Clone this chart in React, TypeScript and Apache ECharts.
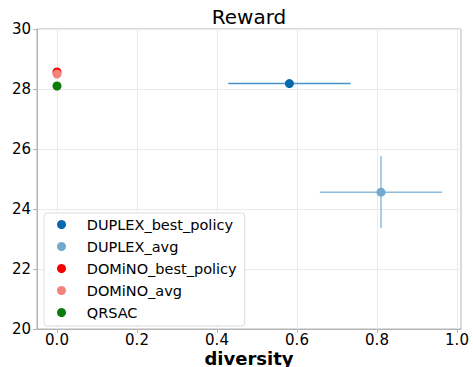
import React, { useEffect, useRef } from "react";
import * as echarts from "echarts";

const seriesNames = ["DUPLEX_best_policy", "DUPLEX_avg", "DOMiNO_best_policy", "DOMiNO_avg", "QRSAC"];
const diversity = [0.581, 0.81, 0.0, 0.0, 0.0];
const diversityErr = [0.153, 0.153, 0.0, 0.0, 0.0];
const reward = [28.18, 24.56, 28.57, 28.5, 28.1];
const rewardErr = [0.0, 1.2, 0.03, 0.05, 0.08];
const xTicks = [0, 0.2, 0.4, 0.6, 0.8, 1.0];

const markerColors = ["#0868ac", "#74a9cf", "#f50000", "#f4837d", "#0a7d0a"];
const barColors = ["#4a93c8", "#8fbcdc", "#f06060", "#f4a09c", "#3c9a3c"];

const FONT = "DejaVu Sans";

export default function App() {
  const ref = useRef<HTMLDivElement>(null);
  useEffect(() => {
    if (!ref.current) return;
    const chart = echarts.init(ref.current, null, { renderer: "svg" });
    const errData = diversity.map((d, i) => [d, reward[i], diversityErr[i], rewardErr[i]]);
    const option: any = {
      animation: false,
      backgroundColor: "#ffffff",
      textStyle: { fontFamily: FONT },
      title: {
        text: "Reward",
        left: 249,
        textAlign: "center",
        top: 7,
        padding: 0,
        textStyle: { fontFamily: FONT, fontSize: 20, fontWeight: "normal", color: "#000" },
      },
      grid: {
        left: 37,
        right: 12,
        top: 29,
        bottom: 38,
        show: true,
        borderColor: "#b5b5b5",
        borderWidth: 1,
        containLabel: false,
        outerBoundsMode: "none",
      },
      legend: {
        data: seriesNames,
        orient: "vertical",
        left: 44,
        top: 213,
        padding: [4, 8, 6, 13],
        icon: "circle",
        itemWidth: 22,
        itemHeight: 9,
        itemGap: 7,
        formatter: (n: string) => "\u00a0\u00a0" + n,
        backgroundColor: "#ffffff",
        borderColor: "#dddddd",
        borderWidth: 1,
        borderRadius: 3,
        textStyle: { fontFamily: FONT, fontSize: 14.5, color: "#000", lineHeight: 14 },
      },
      xAxis: {
        type: "value",
        min: -0.05,
        max: 1.01,
        name: "diversity",
        nameLocation: "middle",
        nameGap: 20,
        nameMoveOverlap: false,
        nameTextStyle: { fontFamily: FONT, fontSize: 18, fontWeight: "bold", color: "#000" },
        axisLine: { show: true, onZero: false, lineStyle: { color: "#b5b5b5", width: 1 } },
        axisTick: { show: true, length: 4, customValues: xTicks, lineStyle: { color: "#b5b5b5" } },
        axisLabel: {
          customValues: xTicks,
          margin: 4,
          lineHeight: 13,
          fontFamily: FONT,
          fontSize: 15,
          color: "#000",
          formatter: (v: number) => v.toFixed(1),
        },
        splitLine: { show: true, customValues: xTicks, lineStyle: { color: "#ebebeb", width: 1 } },
      },
      yAxis: {
        type: "value",
        min: 20,
        max: 30,
        interval: 2,
        axisLine: { show: true, onZero: false, lineStyle: { color: "#b5b5b5", width: 1 } },
        axisTick: { show: true, length: 4, lineStyle: { color: "#b5b5b5" } },
        axisLabel: { margin: 6, fontFamily: FONT, fontSize: 15, color: "#000" },
        splitLine: { show: true, lineStyle: { color: "#ebebeb", width: 1 } },
      },
      series: [
        {
          type: "custom",
          name: "errorbars",
          z: 1,
          silent: true,
          encode: { x: 0, y: 1 },
          data: errData,
          renderItem: (params: any, api: any) => {
            const x = api.value(0);
            const y = api.value(1);
            const ex = api.value(2);
            const ey = api.value(3);
            const color = barColors[params.dataIndex];
            const children: any[] = [];
            if (ex > 0) {
              const a = api.coord([x - ex, y]);
              const b = api.coord([x + ex, y]);
              children.push({
                type: "line",
                shape: { x1: a[0], y1: a[1], x2: b[0], y2: b[1] },
                style: { stroke: color, lineWidth: 1.5 },
              });
            }
            if (ey > 0) {
              const a = api.coord([x, y - ey]);
              const b = api.coord([x, y + ey]);
              children.push({
                type: "line",
                shape: { x1: a[0], y1: a[1], x2: b[0], y2: b[1] },
                style: { stroke: color, lineWidth: 1.5 },
              });
            }
            return { type: "group", children };
          },
        },
        ...seriesNames.map((name, i) => ({
          type: "scatter",
          name,
          z: 3,
          symbol: "circle",
          symbolSize: 9,
          itemStyle: { color: markerColors[i], opacity: 1 },
          data: [[diversity[i], reward[i]]],
        })),
      ],
    };
    chart.setOption(option);
    return () => chart.dispose();
  }, []);
  return (
    <div
      ref={ref}
      style={{ position: "fixed", left: 0, top: 0, width: 473, height: 367, background: "#fff" }}
    />
  );
}
